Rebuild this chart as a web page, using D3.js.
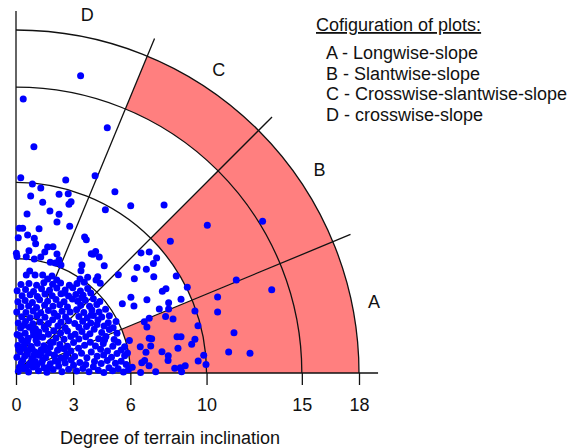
<!DOCTYPE html>
<html>
<head>
<meta charset="utf-8">
<script src="https://cdn.jsdelivr.net/npm/d3@7"></script>
<style>
  body { margin: 0; background: #fff; }
  svg { display: block; font-family: "Liberation Sans", Arial, sans-serif; }
</style>
</head>
<body>
<div id="chart"></div>
<script>
'use strict';

// axis ticks and rings (degrees of inclination)
var tickValues = [0, 3, 6, 10, 15, 18];
var ringRadii = [3, 6, 10, 15, 18];
var sectorBounds = [0, 22.5, 45, 67.5, 90];
var sectorNames = ['A', 'B', 'C', 'D'];
// shaded band of each sector starts here and runs out to 18
var shadedFrom = [6, 10, 15, null];
var legendTitle = 'Cofiguration of plots:';
var legendItems = [
  'A - Longwise-slope',
  'B - Slantwise-slope',
  'C - Crosswise-slantwise-slope',
  'D - crosswise-slope'
];
var axisTitle = 'Degree of terrain inclination';

// plots outside the dense core, [x, y] in degrees
var outerPoints = [
  [3.39, 15.60], [0.38, 14.38], [4.79, 12.87], [0.94, 11.87], [0.25, 10.25], [4.15, 10.35],
  [2.61, 10.13], [0.86, 9.92], [1.30, 9.71], [5.19, 9.51], [0.77, 9.29], [2.26, 9.38],
  [2.74, 9.41], [7.77, 8.81], [10.04, 7.75], [12.94, 7.96], [8.10, 6.91], [6.99, 6.35],
  [6.56, 6.30], [7.38, 6.03], [7.21, 5.75], [6.84, 5.44], [7.23, 5.05], [8.41, 5.09],
  [11.56, 4.88], [13.42, 4.37], [8.99, 4.50], [7.87, 4.42], [7.68, 4.29], [10.58, 3.99],
  [6.87, 3.85], [8.66, 3.87], [8.01, 3.69], [7.52, 3.36], [10.58, 3.20], [9.39, 3.25],
  [7.85, 2.97], [8.24, 2.83], [6.99, 2.87], [6.73, 2.69], [6.87, 2.41], [9.55, 2.48],
  [11.44, 2.11], [8.45, 1.90], [8.66, 1.90], [6.99, 1.82], [7.12, 1.80], [9.39, 1.77],
  [9.22, 1.51], [7.07, 1.42], [6.52, 1.38], [8.50, 1.30], [11.16, 1.10], [12.28, 1.03],
  [6.82, 1.09], [7.66, 1.12], [7.99, 0.91], [9.85, 0.93], [7.98, 0.65], [9.56, 0.63],
  [6.75, 0.65], [6.60, 0.54], [6.98, 0.38], [9.97, 0.44], [8.33, 0.25], [8.62, 0.28],
  [8.88, 0.38], [8.69, 0.07], [7.33, 0.07], [6.54, 0.02], [6.02, 8.78], [4.69, 8.57],
  [6.35, 5.53], [4.37, 6.09], [3.95, 6.26], [4.18, 6.38], [6.21, 4.95], [5.37, 5.16],
  [4.42, 4.71], [6.03, 3.97], [5.58, 3.64], [6.19, 3.52], [8.01, 3.36], [4.63, 5.63],
  [4.20, 4.88]
];

var innerPoints = [
  [1.40, 8.96], [2.89, 8.99], [2.78, 8.85], [1.78, 8.50], [2.26, 8.33], [0.58, 8.34],
  [2.15, 7.92], [2.82, 7.70], [0.17, 7.59], [0.35, 7.59], [1.21, 7.57], [0.61, 7.24],
  [0.12, 7.10], [3.60, 7.14], [3.69, 6.99], [0.96, 7.07], [1.03, 6.78], [1.66, 6.61],
  [1.94, 6.63], [1.51, 6.35], [4.04, 6.23], [0.02, 6.28], [0.68, 6.42], [0.05, 6.12],
  [0.54, 6.10], [1.30, 6.09], [2.15, 6.24], [2.26, 5.94], [0.96, 5.98], [1.80, 5.81],
  [2.06, 5.77], [2.36, 5.67], [3.46, 5.67], [0.72, 5.35], [0.54, 5.14], [1.00, 5.14],
  [1.40, 5.14], [1.66, 4.93], [1.89, 5.09], [3.41, 5.37], [3.76, 5.02], [4.29, 5.05],
  [3.36, 4.93], [2.14, 4.88]
];

var corePoints = [
  [0.12, 0.08], [0.40, 0.22], [0.66, 0.05], [0.90, 0.31], [1.18, 0.12], [1.47, 0.27], [1.62, 0.04],
  [1.95, 0.18], [2.24, 0.36], [2.41, 0.07], [2.76, 0.20], [3.02, 0.41], [3.18, 0.10], [3.51, 0.24],
  [3.83, 0.06], [4.06, 0.33], [4.32, 0.15], [4.61, 0.03], [4.88, 0.28], [5.07, 0.12], [5.36, 0.22],
  [5.64, 0.05], [5.90, 0.17],
  [0.28, 0.52], [0.71, 0.47], [1.02, 0.60], [1.36, 0.55], [1.80, 0.49], [2.06, 0.63], [2.58, 0.52],
  [2.90, 0.68], [3.35, 0.55], [3.66, 0.45], [4.12, 0.61], [4.47, 0.50], [4.79, 0.66], [5.22, 0.51],
  [5.52, 0.62], [5.78, 0.44],
  [0.05, 0.82], [0.46, 0.88], [0.83, 0.76], [1.21, 0.93], [1.55, 0.81], [1.71, 1.05], [2.02, 0.90],
  [2.35, 0.79], [2.67, 1.01], [3.08, 0.86], [3.44, 1.04], [3.72, 0.80], [3.95, 1.10], [4.26, 0.88],
  [4.60, 0.95], [5.01, 0.83], [5.30, 1.02], [5.70, 0.90],
  [0.22, 1.12], [0.62, 1.18], [1.00, 1.10], [1.32, 1.22], [2.18, 1.19], [2.52, 1.27], [2.88, 1.15],
  [3.28, 1.30], [4.44, 1.24], [4.80, 1.16], [5.52, 1.21],
  [0.10, 1.44], [0.44, 1.50], [0.80, 1.39], [1.12, 1.56], [1.46, 1.43], [1.79, 1.36], [1.95, 1.62],
  [2.30, 1.50], [2.70, 1.41], [3.02, 1.60], [3.60, 1.45], [3.90, 1.62], [4.17, 1.42], [4.58, 1.55],
  [5.08, 1.40], [5.35, 1.62], [5.70, 1.38],
  [0.30, 1.75], [0.64, 1.82], [1.05, 1.72], [1.40, 1.88], [2.10, 1.84], [2.52, 1.77], [2.88, 1.92],
  [3.30, 1.78], [3.66, 1.90], [4.34, 1.80], [4.72, 1.92], [5.15, 1.76],
  [0.06, 2.02], [0.48, 2.08], [0.92, 2.00], [1.20, 2.15], [1.70, 2.04], [1.98, 2.22], [2.34, 2.10],
  [2.70, 2.20], [3.10, 2.04], [3.46, 2.18], [3.88, 2.06], [4.10, 2.30], [4.50, 2.12], [4.90, 2.28],
  [5.30, 2.08],
  [0.24, 2.36], [0.70, 2.40], [1.02, 2.32], [1.48, 2.42], [2.20, 2.46], [2.58, 2.38], [3.30, 2.40],
  [3.70, 2.44], [4.62, 2.46], [5.10, 2.38],
  [0.12, 2.62], [0.50, 2.70], [0.88, 2.58], [1.26, 2.68], [1.70, 2.60], [1.92, 2.80], [2.36, 2.66],
  [2.76, 2.74], [3.08, 2.60], [3.50, 2.72], [3.92, 2.62], [4.30, 2.78], [4.84, 2.64],
  [0.30, 2.95], [0.74, 2.90], [1.10, 3.00], [1.52, 2.92], [2.18, 2.98], [2.60, 2.94], [3.30, 2.96],
  [3.74, 2.90], [4.06, 3.02], [4.50, 2.94], [4.90, 3.00],
  [0.04, 3.20], [0.52, 3.18], [0.90, 3.26], [1.30, 3.16], [1.70, 3.28], [2.00, 3.14], [2.42, 3.24],
  [2.84, 3.20], [3.18, 3.32], [3.56, 3.18], [3.98, 3.30], [4.36, 3.20], [4.70, 3.34],
  [0.26, 3.48], [0.66, 3.52], [1.08, 3.44], [1.50, 3.56], [1.94, 3.50], [2.30, 3.58], [2.70, 3.46],
  [3.40, 3.56], [3.86, 3.50], [4.24, 3.60],
  [0.10, 3.74], [0.48, 3.80], [0.86, 3.70], [1.24, 3.84], [1.66, 3.76], [2.10, 3.86], [2.52, 3.74],
  [2.96, 3.88], [3.24, 3.76], [3.64, 3.82], [4.06, 3.90],
  [0.32, 4.06], [0.74, 4.10], [1.12, 4.02], [1.52, 4.14], [1.90, 4.06], [2.36, 4.16], [2.76, 4.04],
  [3.14, 4.12], [3.52, 4.08], [3.92, 4.20],
  [0.06, 4.32], [0.50, 4.38], [0.92, 4.28], [1.34, 4.42], [1.76, 4.34], [2.14, 4.46], [2.58, 4.36],
  [2.98, 4.48], [3.38, 4.30], [3.76, 4.44],
  [0.26, 4.64], [0.68, 4.70], [1.08, 4.60], [1.46, 4.74], [1.92, 4.66], [2.34, 4.72], [2.80, 4.60],
  [3.20, 4.70], [3.58, 4.76],
  [0.18, 0.30], [0.55, 0.30], [0.82, 0.55], [1.10, 0.42], [0.35, 0.65], [0.60, 1.00], [0.95, 0.95],
  [1.40, 0.70], [1.70, 0.30], [0.15, 1.25], [0.40, 1.30], [0.85, 1.25], [1.30, 1.05], [2.20, 0.60],
  [1.50, 1.20], [0.20, 1.95], [0.60, 1.65], [1.80, 1.60], [2.30, 1.30], [0.42, 2.50], [1.15, 1.90],
  [1.55, 2.30], [2.00, 0.95], [2.60, 0.85], [0.90, 2.20], [6.10, 0.30], [5.85, 1.05], [5.95, 1.70],
  [3.95, 3.05], [4.25, 2.55], [4.65, 1.75], [3.45, 3.95], [2.55, 4.20], [4.40, 3.75], [5.25, 2.70]
];

var width = 569, height = 448;
var ox = 16, oy = 373, span = 343;
var rad = Math.PI / 180;
var fontSize = 18;

var x = d3.scaleLinear().domain([0, 18]).range([ox, ox + span]);
var y = d3.scaleLinear().domain([0, 18]).range([oy, oy - span]);
var r = d3.scaleLinear().domain([0, 18]).range([0, span]);

var svg = d3.select('#chart').append('svg')
  .attr('width', width)
  .attr('height', height);

var polar = svg.append('g').attr('transform', 'translate(' + ox + ',' + oy + ')');

// shaded bands
var band = d3.arc();
sectorNames.forEach(function (name, i) {
  if (shadedFrom[i] == null) return;
  polar.append('path')
    .attr('d', band({
      innerRadius: r(shadedFrom[i]),
      outerRadius: r(18),
      startAngle: (90 - sectorBounds[i + 1]) * rad,
      endAngle: (90 - sectorBounds[i]) * rad
    }))
    .attr('fill', '#ff7f7f');
});

// plots
svg.append('g').selectAll('circle')
  .data(outerPoints.concat(innerPoints, corePoints))
  .enter().append('circle')
  .attr('cx', function (d) { return x(d[0]); })
  .attr('cy', function (d) { return y(d[1]); })
  .attr('r', 3.5)
  .attr('fill', '#0000ff');

// rings
ringRadii.forEach(function (v) {
  var p = d3.path();
  p.moveTo(r(v), 0);
  p.arc(0, 0, r(v), 0, -Math.PI / 2, true);
  polar.append('path')
    .attr('d', p.toString())
    .attr('fill', 'none')
    .attr('stroke', '#111')
    .attr('stroke-width', 1.3);
});

// sector borders
sectorBounds.slice(1, -1).forEach(function (a) {
  polar.append('line')
    .attr('x1', 0).attr('y1', 0)
    .attr('x2', r(19) * Math.cos(a * rad))
    .attr('y2', -r(19) * Math.sin(a * rad))
    .attr('stroke', '#111')
    .attr('stroke-width', 1.3);
});

// base lines
polar.append('line')
  .attr('x1', 0).attr('y1', 0).attr('x2', r(19)).attr('y2', 0)
  .attr('stroke', '#111').attr('stroke-width', 1.3);
polar.append('line')
  .attr('x1', 0).attr('y1', 0).attr('x2', 0).attr('y2', -r(19))
  .attr('stroke', '#111').attr('stroke-width', 1.3);

var axis = svg.append('g')
  .attr('transform', 'translate(0,' + oy + ')')
  .call(d3.axisBottom(x).tickValues(tickValues).tickSize(12).tickPadding(13).tickSizeOuter(0));
axis.select('.domain').remove();
axis.selectAll('line').attr('stroke', '#111').attr('stroke-width', 1.3);
axis.selectAll('text')
  .attr('fill', '#111')
  .style('font-size', fontSize + 'px')
  .style('font-family', '"Liberation Sans", Arial, sans-serif');

// sector letters
sectorNames.forEach(function (name, i) {
  var mid = (sectorBounds[i] + sectorBounds[i + 1]) / 2;
  polar.append('text')
    .attr('x', r(19.15) * Math.cos(mid * rad))
    .attr('y', -r(19.15) * Math.sin(mid * rad))
    .attr('text-anchor', 'middle')
    .attr('dominant-baseline', 'central')
    .attr('font-size', fontSize)
    .attr('fill', '#111')
    .text(name);
});

svg.append('text')
  .attr('x', 170)
  .attr('y', 444)
  .attr('text-anchor', 'middle')
  .attr('font-size', fontSize)
  .attr('fill', '#111')
  .text(axisTitle);

// legend
svg.append('text')
  .attr('x', 316)
  .attr('y', 31)
  .attr('font-size', fontSize)
  .attr('fill', '#111')
  .style('text-decoration', 'underline')
  .text(legendTitle);

svg.append('g').selectAll('text')
  .data(legendItems)
  .enter().append('text')
  .attr('x', 326)
  .attr('y', function (d, i) { return 59 + i * 20.7; })
  .attr('font-size', fontSize)
  .attr('fill', '#111')
  .text(function (d) { return d; });
</script>
</body>
</html>
